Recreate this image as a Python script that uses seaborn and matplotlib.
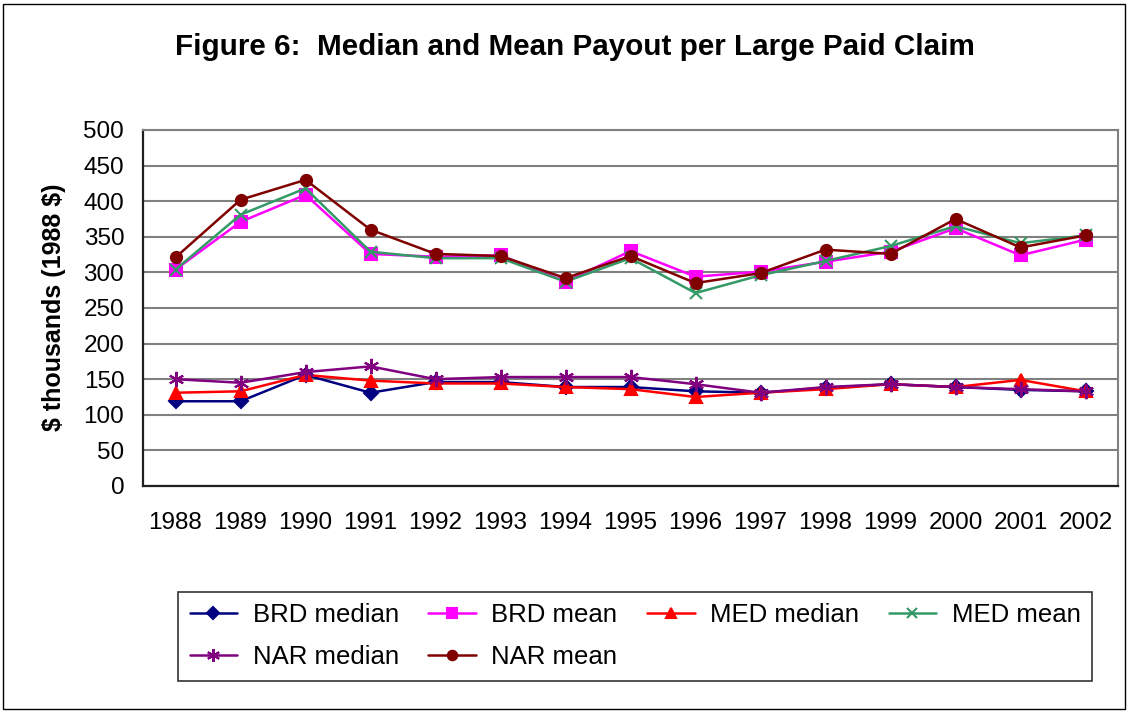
import numpy as np
import pandas as pd
import seaborn as sns
import matplotlib.pyplot as plt
from matplotlib.patches import Rectangle

years = [1988, 1989, 1990, 1991, 1992, 1993, 1994, 1995,
         1996, 1997, 1998, 1999, 2000, 2001, 2002]

brd_median = [119, 119, 156, 131, 146, 146, 139, 139, 133, 131, 138, 143, 139, 135, 133]
brd_mean = [304, 371, 409, 326, 322, 324, 287, 330, 294, 301, 315, 329, 362, 324, 346]
med_median = [131, 133, 156, 148, 144, 144, 139, 136, 125, 131, 136, 143, 139, 149, 133]
med_mean = [304, 381, 418, 329, 320, 320, 287, 320, 271, 296, 316, 337, 365, 341, 352]
nar_median = [150, 145, 160, 168, 150, 153, 153, 153, 143, 131, 139, 143, 139, 136, 133]
nar_mean = [321, 402, 430, 360, 326, 323, 292, 323, 285, 299, 332, 326, 375, 335, 352]

series = {
    "BRD median": brd_median,
    "BRD mean": brd_mean,
    "MED median": med_median,
    "MED mean": med_mean,
    "NAR median": nar_median,
    "NAR mean": nar_mean,
}
colors = {
    "BRD median": "#000080",
    "BRD mean": "#ff00ff",
    "MED median": "#ff0000",
    "MED mean": "#339966",
    "NAR median": "#800080",
    "NAR mean": "#800000",
}
markers = {
    "BRD median": "D",
    "BRD mean": "s",
    "MED median": "^",
    "MED mean": "x",
    "NAR median": (6, 2, 0),
    "NAR mean": "o",
}
msizes = {"BRD median": 7, "BRD mean": 8, "MED median": 9,
          "MED mean": 9, "NAR median": 11, "NAR mean": 8}

sns.set_style("white")
plt.rcParams["font.family"] = ["Liberation Sans", "DejaVu Sans"]
plt.rcParams["text.color"] = "black"
plt.rcParams["axes.labelcolor"] = "black"
plt.rcParams["xtick.color"] = "black"
plt.rcParams["ytick.color"] = "black"

fig = plt.figure(figsize=(11.29, 7.13), dpi=100)
ax = fig.add_axes([143 / 1129, 1 - 486 / 713, 975 / 1129, 356 / 713])

handles = {}
for name, vals in series.items():
    df = pd.DataFrame({"year": years, "value": vals})
    sns.lineplot(data=df, x="year", y="value", ax=ax, color=colors[name],
                 marker=markers[name], markersize=msizes[name],
                 markeredgecolor=colors[name], markeredgewidth=1.5,
                 linewidth=1.8, label=name, legend=False)
    handles[name] = ax.lines[-1]

ax.set_xlim(1987.5, 2002.5)
ax.set_ylim(0, 500)
ax.set_yticks(np.arange(0, 501, 50))
ax.set_xticks(years)
ax.set_xticklabels([str(y) for y in years])
ax.set_xticks(np.arange(1987.5, 2003, 1), minor=True)
ax.tick_params(axis="x", which="major", length=0, labelsize=17.5, pad=19)
ax.tick_params(axis="x", which="minor", length=9, width=1.2, color="#404040", direction="inout")
ax.tick_params(axis="y", length=9, width=1.2, color="#404040", direction="inout", labelsize=17.5, pad=9)
ax.yaxis.grid(True, color="#808080", linewidth=1.5)
ax.xaxis.grid(False)
ax.set_axisbelow(True)
for s in ["top", "right"]:
    ax.spines[s].set_color("#808080")
    ax.spines[s].set_linewidth(1.5)
for s in ["left", "bottom"]:
    ax.spines[s].set_color("#202020")
    ax.spines[s].set_linewidth(1.6)

ax.set_xlabel("")
ax.set_ylabel("")
fig.text(54 / 1129, 1 - 307 / 713, r"\$ thousands (1988 \$)", rotation=90,
         ha="center", va="center", fontsize=18, fontweight="bold")

fig.text(575 / 1129, 1 - 47 / 713, "Figure 6:  Median and Mean Payout per Large Paid Claim",
         ha="center", va="center", fontsize=21.3, fontweight="bold")

order = ["BRD median", "NAR median", "BRD mean", "NAR mean", "MED median", "MED mean"]
leg = fig.legend([handles[n] for n in order], order, ncol=4, mode="expand",
                 bbox_to_anchor=(178 / 1129, 1 - 681 / 713, 914 / 1129, 88 / 713),
                 loc="lower left", fontsize=18.5, frameon=True, fancybox=False,
                 edgecolor="black", handlelength=1.85, handletextpad=0.6,
                 borderaxespad=0, labelspacing=0.7, borderpad=0.45,
                 markerscale=0.85)
leg.get_frame().set_linewidth(1.2)

fig.patches.append(Rectangle((3 / 1129, 4 / 713), 1122 / 1129, 705 / 713,
                             transform=fig.transFigure, fill=False,
                             edgecolor="black", linewidth=1.0))

fig.savefig("out.png", dpi=100)
